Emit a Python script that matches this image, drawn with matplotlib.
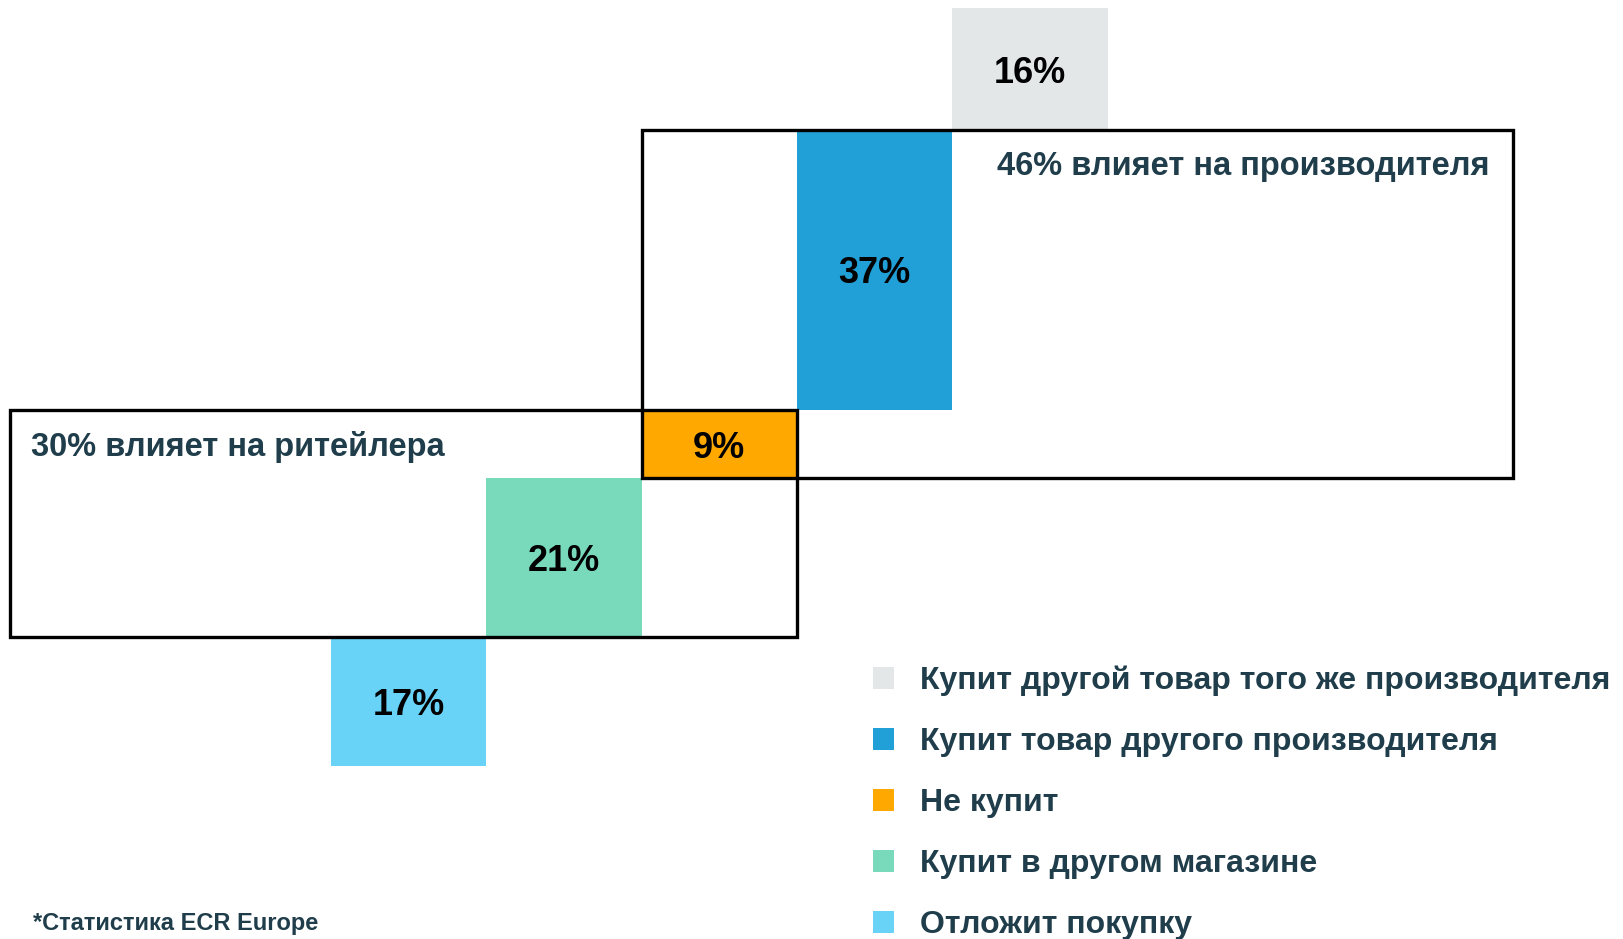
import matplotlib
matplotlib.use("Agg")
import matplotlib.pyplot as plt
from matplotlib.patches import Rectangle, Patch
import numpy as np

plt.rcParams['font.family'] = ['Liberation Sans', 'DejaVu Sans']

# данные: слева направо (снизу вверх)
categories = ["Отложит покупку", "Купит в другом магазине", "Не купит",
              "Купит товар другого производителя", "Купит другой товар того же производителя"]
values = [17, 21, 9, 37, 16]
labels = ["17%", "21%", "9%", "37%", "16%"]
colors = ["#69d3f7", "#78dabb", "#ffa800", "#21a0d8", "#e3e7e8"]
x_pos = [2, 3, 4, 5, 6]

retail_text = "30% влияет на ритейлера"
maker_text = "46% влияет на производителя"
note_text = "*Статистика ECR Europe"
text_color = "#1f3d4a"

bottoms = np.concatenate([[0], np.cumsum(values)[:-1]])

fig = plt.figure(figsize=(16.23, 9.39), dpi=100)
ax = fig.add_axes([0, 0, 1, 1])
ax.set_xlim(-0.133, 10.32)
ax.set_ylim(-22.8, 101.1)
ax.axis('off')

ax.bar(x_pos, values, bottom=bottoms, width=1.0, align='edge', color=colors, zorder=1)
for x, b, v, lab in zip(x_pos, bottoms, values, labels):
    ax.text(x + 0.5, b + v / 2 - 0.55, lab, ha='center', va='center',
            fontsize=26, fontweight='bold', color='black', zorder=3)

# рамки: ритейлер (21% + 9%) и производитель (9% + 37%)
r_bottom = bottoms[1]
r_top = bottoms[2] + values[2]
ax.add_patch(Rectangle((-0.07, r_bottom), x_pos[2] + 1 + 0.07, r_top - r_bottom,
                       fill=False, edgecolor='black', linewidth=2.4, zorder=2))
m_bottom = bottoms[2]
m_top = bottoms[3] + values[3]
ax.add_patch(Rectangle((x_pos[2], m_bottom), 9.61 - x_pos[2], m_top - m_bottom,
                       fill=False, edgecolor='black', linewidth=2.4, zorder=2))

ax.text(0.067, 42.1, retail_text, ha='left', va='center', fontsize=23.5,
        fontweight='bold', color=text_color)
ax.text(6.29, 79.1, maker_text, ha='left', va='center', fontsize=23.5,
        fontweight='bold', color=text_color)

handles = [Patch(facecolor=c) for c in colors[::-1]]
leg = ax.legend(handles, categories[::-1], loc='upper left',
                bbox_to_anchor=(0.5376, 0.291), frameon=False,
                fontsize=23, handlelength=0.68, handleheight=0.68,
                handletextpad=0.8, labelspacing=0.97, borderpad=0, borderaxespad=0)
for t in leg.get_texts():
    t.set_color(text_color)
    t.set_fontweight('bold')

ax.text(0.0204, 0.016, note_text, transform=ax.transAxes, ha='left', va='center',
        fontsize=17, fontweight='bold', color=text_color)

fig.savefig("out.png", dpi=100)
